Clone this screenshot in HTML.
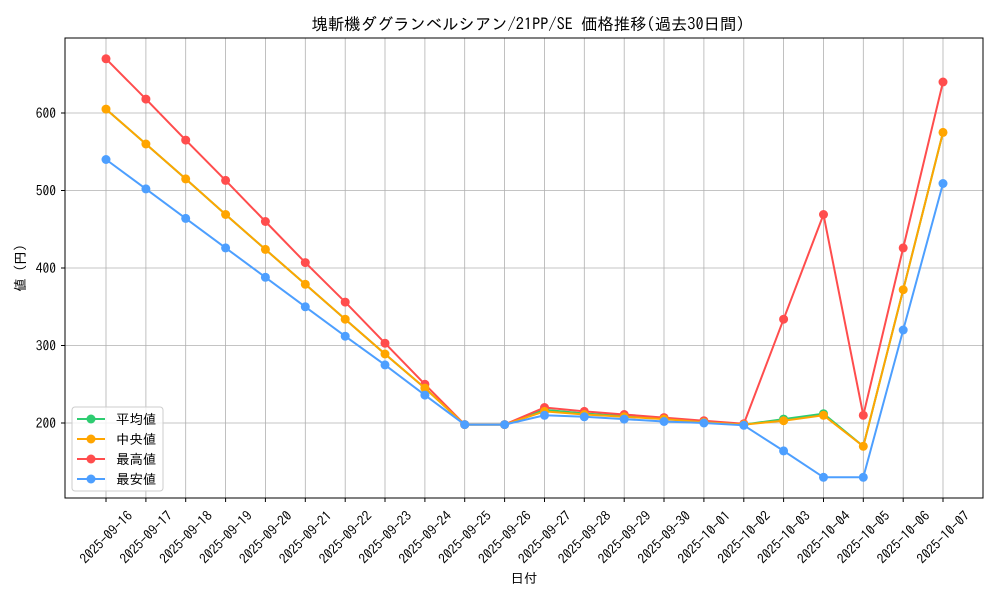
<!DOCTYPE html><html><head><meta charset="utf-8"><style>body{margin:0;background:#fff}svg{display:block;font-family:"IPAGothic","Noto Sans CJK JP",monospace}</style></head><body>
<svg width="1000" height="600" viewBox="0 0 1000 600">
<rect width="1000" height="600" fill="#fff"/>
<g stroke="#b0b0b0" stroke-width="0.8">
<line x1="106" y1="38" x2="106" y2="498"/><line x1="145.9" y1="38" x2="145.9" y2="498"/><line x1="185.7" y1="38" x2="185.7" y2="498"/><line x1="225.6" y1="38" x2="225.6" y2="498"/><line x1="265.4" y1="38" x2="265.4" y2="498"/><line x1="305.3" y1="38" x2="305.3" y2="498"/><line x1="345.2" y1="38" x2="345.2" y2="498"/><line x1="385" y1="38" x2="385" y2="498"/><line x1="424.9" y1="38" x2="424.9" y2="498"/><line x1="464.7" y1="38" x2="464.7" y2="498"/><line x1="504.6" y1="38" x2="504.6" y2="498"/><line x1="544.5" y1="38" x2="544.5" y2="498"/><line x1="584.3" y1="38" x2="584.3" y2="498"/><line x1="624.2" y1="38" x2="624.2" y2="498"/><line x1="664" y1="38" x2="664" y2="498"/><line x1="703.9" y1="38" x2="703.9" y2="498"/><line x1="743.8" y1="38" x2="743.8" y2="498"/><line x1="783.6" y1="38" x2="783.6" y2="498"/><line x1="823.5" y1="38" x2="823.5" y2="498"/><line x1="863.3" y1="38" x2="863.3" y2="498"/><line x1="903.2" y1="38" x2="903.2" y2="498"/><line x1="943" y1="38" x2="943" y2="498"/>
<line x1="65" y1="423" x2="983" y2="423"/><line x1="65" y1="345.5" x2="983" y2="345.5"/><line x1="65" y1="268" x2="983" y2="268"/><line x1="65" y1="190.5" x2="983" y2="190.5"/><line x1="65" y1="113" x2="983" y2="113"/>
</g>
<rect x="65" y="38" width="918" height="460" fill="none" stroke="#000" stroke-width="1"/>
<g stroke="#000"><line x1="61" y1="423" x2="65" y2="423"/><line x1="61" y1="345.5" x2="65" y2="345.5"/><line x1="61" y1="268" x2="65" y2="268"/><line x1="61" y1="190.5" x2="65" y2="190.5"/><line x1="61" y1="113" x2="65" y2="113"/>
<line x1="106" y1="498" x2="106" y2="502"/><line x1="145.9" y1="498" x2="145.9" y2="502"/><line x1="185.7" y1="498" x2="185.7" y2="502"/><line x1="225.6" y1="498" x2="225.6" y2="502"/><line x1="265.4" y1="498" x2="265.4" y2="502"/><line x1="305.3" y1="498" x2="305.3" y2="502"/><line x1="345.2" y1="498" x2="345.2" y2="502"/><line x1="385" y1="498" x2="385" y2="502"/><line x1="424.9" y1="498" x2="424.9" y2="502"/><line x1="464.7" y1="498" x2="464.7" y2="502"/><line x1="504.6" y1="498" x2="504.6" y2="502"/><line x1="544.5" y1="498" x2="544.5" y2="502"/><line x1="584.3" y1="498" x2="584.3" y2="502"/><line x1="624.2" y1="498" x2="624.2" y2="502"/><line x1="664" y1="498" x2="664" y2="502"/><line x1="703.9" y1="498" x2="703.9" y2="502"/><line x1="743.8" y1="498" x2="743.8" y2="502"/><line x1="783.6" y1="498" x2="783.6" y2="502"/><line x1="823.5" y1="498" x2="823.5" y2="502"/><line x1="863.3" y1="498" x2="863.3" y2="502"/><line x1="903.2" y1="498" x2="903.2" y2="502"/><line x1="943" y1="498" x2="943" y2="502"/></g>
<g font-size="13.5" text-anchor="end" fill="#000"><text x="56" y="428">200</text><text x="56" y="350.5">300</text><text x="56" y="273">400</text><text x="56" y="195.5">500</text><text x="56" y="118">600</text></g>
<g font-size="13.5" text-anchor="middle" dominant-baseline="central" fill="#000">
<text transform="translate(106,537) rotate(-45)">2025-09-16</text><text transform="translate(145.9,537) rotate(-45)">2025-09-17</text><text transform="translate(185.7,537) rotate(-45)">2025-09-18</text><text transform="translate(225.6,537) rotate(-45)">2025-09-19</text><text transform="translate(265.4,537) rotate(-45)">2025-09-20</text><text transform="translate(305.3,537) rotate(-45)">2025-09-21</text><text transform="translate(345.2,537) rotate(-45)">2025-09-22</text><text transform="translate(385,537) rotate(-45)">2025-09-23</text><text transform="translate(424.9,537) rotate(-45)">2025-09-24</text><text transform="translate(464.7,537) rotate(-45)">2025-09-25</text><text transform="translate(504.6,537) rotate(-45)">2025-09-26</text><text transform="translate(544.5,537) rotate(-45)">2025-09-27</text><text transform="translate(584.3,537) rotate(-45)">2025-09-28</text><text transform="translate(624.2,537) rotate(-45)">2025-09-29</text><text transform="translate(664,537) rotate(-45)">2025-09-30</text><text transform="translate(703.9,537) rotate(-45)">2025-10-01</text><text transform="translate(743.8,537) rotate(-45)">2025-10-02</text><text transform="translate(783.6,537) rotate(-45)">2025-10-03</text><text transform="translate(823.5,537) rotate(-45)">2025-10-04</text><text transform="translate(863.3,537) rotate(-45)">2025-10-05</text><text transform="translate(903.2,537) rotate(-45)">2025-10-06</text><text transform="translate(943,537) rotate(-45)">2025-10-07</text>
</g>
<text x="524" y="583" font-size="13.5" text-anchor="middle">日付</text>
<text transform="translate(25,268) rotate(-90)" font-size="13.5" text-anchor="middle">値 (円)</text>
<text x="528" y="30" font-size="16.5" text-anchor="middle" textLength="433" lengthAdjust="spacingAndGlyphs">塊斬機ダグランベルシアン/21PP/SE 価格推移(過去30日間)</text>
<polyline fill="none" stroke="#2ecc71" stroke-width="2" points="106,109.1 145.9,144 185.7,178.9 225.6,214.5 265.4,249.4 305.3,284.3 345.2,319.2 385,354 424.9,388.1 464.7,424.6 504.6,424.6 544.5,409.8 584.3,413.5 624.2,416 664,418.5 703.9,422 743.8,424.6 783.6,419.1 823.5,413.7 863.3,446.3 903.2,289.7 943,132.4"/>
<g fill="#2ecc71"><circle cx="783.6" cy="419.1" r="4.5"/><circle cx="823.5" cy="413.7" r="4.5"/><circle cx="544.5" cy="409.8" r="4.5"/></g>
<polyline fill="none" stroke="#ff4d4d" stroke-width="2" points="106,58.8 145.9,99.1 185.7,140.1 225.6,180.4 265.4,221.5 305.3,262.6 345.2,302.1 385,343.2 424.9,384.3 464.7,424.6 504.6,424.6 544.5,407.5 584.3,411.4 624.2,414.5 664,417.6 703.9,420.7 743.8,423.8 783.6,319.2 823.5,214.5 863.3,415.3 903.2,247.9 943,82"/>
<g fill="#ff4d4d"><circle cx="106" cy="58.8" r="4.5"/><circle cx="145.9" cy="99.1" r="4.5"/><circle cx="185.7" cy="140.1" r="4.5"/><circle cx="225.6" cy="180.4" r="4.5"/><circle cx="265.4" cy="221.5" r="4.5"/><circle cx="305.3" cy="262.6" r="4.5"/><circle cx="345.2" cy="302.1" r="4.5"/><circle cx="385" cy="343.2" r="4.5"/><circle cx="424.9" cy="384.3" r="4.5"/><circle cx="464.7" cy="424.6" r="4.5"/><circle cx="504.6" cy="424.6" r="4.5"/><circle cx="544.5" cy="407.5" r="4.5"/><circle cx="584.3" cy="411.4" r="4.5"/><circle cx="624.2" cy="414.5" r="4.5"/><circle cx="664" cy="417.6" r="4.5"/><circle cx="703.9" cy="420.7" r="4.5"/><circle cx="743.8" cy="423.8" r="4.5"/><circle cx="783.6" cy="319.2" r="4.5"/><circle cx="823.5" cy="214.5" r="4.5"/><circle cx="863.3" cy="415.3" r="4.5"/><circle cx="903.2" cy="247.9" r="4.5"/><circle cx="943" cy="82" r="4.5"/></g>
<polyline fill="none" stroke="#ffa500" stroke-width="2" points="106,109.1 145.9,144 185.7,178.9 225.6,214.5 265.4,249.4 305.3,284.3 345.2,319.2 385,354 424.9,388.1 464.7,424.6 504.6,424.6 544.5,411.4 584.3,414.5 624.2,416.8 664,419.1 703.9,422.2 743.8,424.6 783.6,420.7 823.5,415.3 863.3,446.3 903.2,289.7 943,132.4"/>
<g fill="#ffa500"><circle cx="106" cy="109.1" r="4.5"/><circle cx="145.9" cy="144" r="4.5"/><circle cx="185.7" cy="178.9" r="4.5"/><circle cx="225.6" cy="214.5" r="4.5"/><circle cx="265.4" cy="249.4" r="4.5"/><circle cx="305.3" cy="284.3" r="4.5"/><circle cx="345.2" cy="319.2" r="4.5"/><circle cx="385" cy="354" r="4.5"/><circle cx="424.9" cy="388.1" r="4.5"/><circle cx="464.7" cy="424.6" r="4.5"/><circle cx="504.6" cy="424.6" r="4.5"/><circle cx="544.5" cy="411.4" r="4.5"/><circle cx="584.3" cy="414.5" r="4.5"/><circle cx="624.2" cy="416.8" r="4.5"/><circle cx="664" cy="419.1" r="4.5"/><circle cx="703.9" cy="422.2" r="4.5"/><circle cx="743.8" cy="424.6" r="4.5"/><circle cx="783.6" cy="420.7" r="4.5"/><circle cx="823.5" cy="415.3" r="4.5"/><circle cx="863.3" cy="446.3" r="4.5"/><circle cx="903.2" cy="289.7" r="4.5"/><circle cx="943" cy="132.4" r="4.5"/></g>
<polyline fill="none" stroke="#4d9fff" stroke-width="2" points="106,159.5 145.9,188.9 185.7,218.4 225.6,247.9 265.4,277.3 305.3,306.8 345.2,336.2 385,364.9 424.9,395.1 464.7,424.6 504.6,424.6 544.5,415.3 584.3,416.8 624.2,419.1 664,421.5 703.9,423 743.8,425.3 783.6,450.9 823.5,477.3 863.3,477.3 903.2,330 943,183.5"/>
<g fill="#4d9fff"><circle cx="106" cy="159.5" r="4.5"/><circle cx="145.9" cy="188.9" r="4.5"/><circle cx="185.7" cy="218.4" r="4.5"/><circle cx="225.6" cy="247.9" r="4.5"/><circle cx="265.4" cy="277.3" r="4.5"/><circle cx="305.3" cy="306.8" r="4.5"/><circle cx="345.2" cy="336.2" r="4.5"/><circle cx="385" cy="364.9" r="4.5"/><circle cx="424.9" cy="395.1" r="4.5"/><circle cx="464.7" cy="424.6" r="4.5"/><circle cx="504.6" cy="424.6" r="4.5"/><circle cx="544.5" cy="415.3" r="4.5"/><circle cx="584.3" cy="416.8" r="4.5"/><circle cx="624.2" cy="419.1" r="4.5"/><circle cx="664" cy="421.5" r="4.5"/><circle cx="703.9" cy="423" r="4.5"/><circle cx="743.8" cy="425.3" r="4.5"/><circle cx="783.6" cy="450.9" r="4.5"/><circle cx="823.5" cy="477.3" r="4.5"/><circle cx="863.3" cy="477.3" r="4.5"/><circle cx="903.2" cy="330" r="4.5"/><circle cx="943" cy="183.5" r="4.5"/></g>
<rect x="72" y="407" width="91" height="84" rx="3" fill="#fff" fill-opacity="0.8" stroke="#ccc"/>
<g stroke-width="2" font-size="13.5">
<line x1="77" y1="419" x2="105" y2="419" stroke="#2ecc71"/><circle cx="91" cy="419" r="4.5" fill="#2ecc71"/><text x="116" y="424">平均値</text>
<line x1="77" y1="439" x2="105" y2="439" stroke="#ffa500"/><circle cx="91" cy="439" r="4.5" fill="#ffa500"/><text x="116" y="444">中央値</text>
<line x1="77" y1="459" x2="105" y2="459" stroke="#ff4d4d"/><circle cx="91" cy="459" r="4.5" fill="#ff4d4d"/><text x="116" y="464">最高値</text>
<line x1="77" y1="479" x2="105" y2="479" stroke="#4d9fff"/><circle cx="91" cy="479" r="4.5" fill="#4d9fff"/><text x="116" y="484">最安値</text>
</g>
</svg></body></html>
